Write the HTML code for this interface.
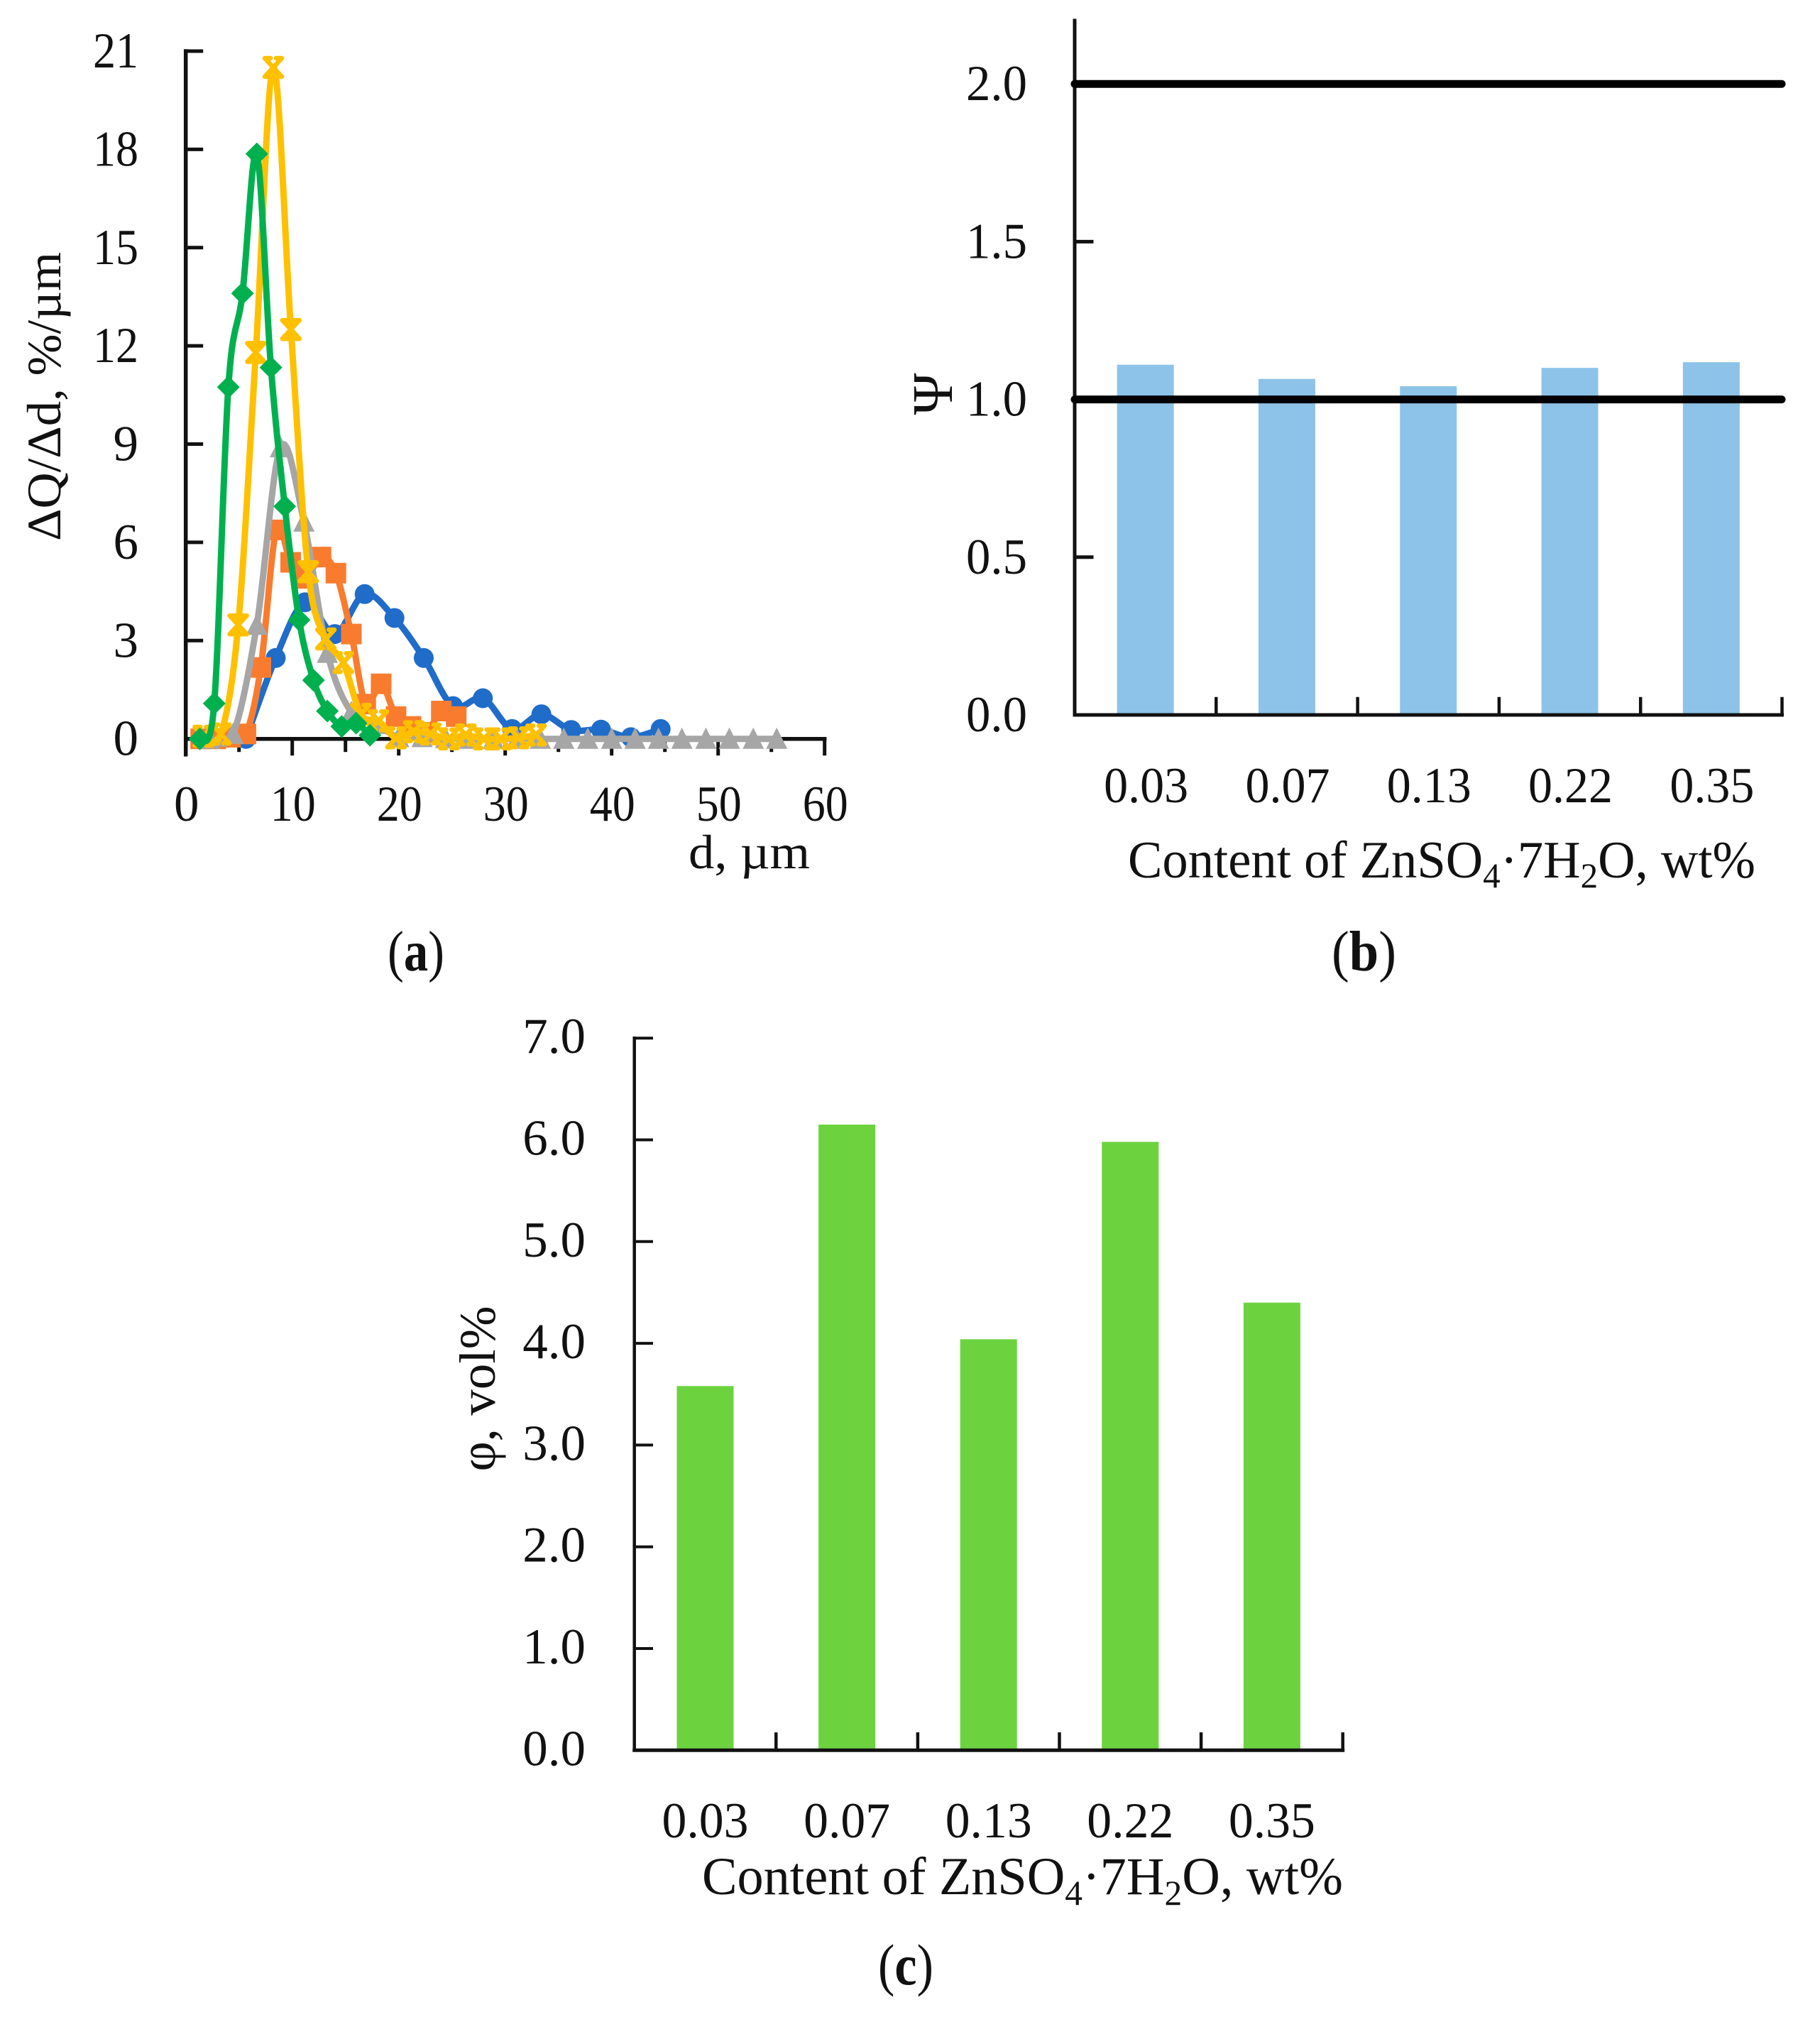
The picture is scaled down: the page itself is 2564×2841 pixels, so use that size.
<!DOCTYPE html>
<html lang="en">
<head>
<meta charset="utf-8">
<title>Particle size distribution and ZnSO4 content charts</title>
<style>
html,body{margin:0;padding:0;background:#fff;}
svg{display:block;}
text{font-family:"Liberation Serif","DejaVu Serif",serif;fill:#111;}
</style>
</head>
<body>
<svg id="figure" xmlns="http://www.w3.org/2000/svg" width="2564" height="2841" viewBox="0 0 2564 2841">
  <rect x="0" y="0" width="2564" height="2841" fill="#fff"/>
  <g id="panelA"></g>
  <g id="panelB"></g>
  <g id="panelC"></g>

  <text transform="translate(85,558.5) rotate(-90)" text-anchor="middle" font-size="68" textLength="407" lengthAdjust="spacingAndGlyphs">ΔQ/Δd, %/µm</text>
  <text x="970" y="1223" font-size="68" textLength="171" lengthAdjust="spacingAndGlyphs">d, µm</text>
  <text x="546" y="1367" font-size="80" textLength="80" lengthAdjust="spacingAndGlyphs">(<tspan font-weight="bold">a</tspan>)</text>

  <text transform="translate(1341,555) rotate(-90)" text-anchor="middle" font-size="80">Ψ</text>
  <text x="1589" y="1236" font-size="74" textLength="884" lengthAdjust="spacingAndGlyphs">Content of ZnSO<tspan font-size="50" dy="14">4</tspan><tspan dy="-14">·7H</tspan><tspan font-size="50" dy="14">2</tspan><tspan dy="-14">O, wt%</tspan></text>
  <text x="1876" y="1367" font-size="80" textLength="91" lengthAdjust="spacingAndGlyphs">(<tspan font-weight="bold">b</tspan>)</text>

  <text transform="translate(697,1956) rotate(-90)" text-anchor="middle" font-size="72" textLength="233" lengthAdjust="spacingAndGlyphs">φ, vol%</text>
  <text x="989" y="2668" font-size="75" textLength="903" lengthAdjust="spacingAndGlyphs">Content of ZnSO<tspan font-size="50" dy="15">4</tspan><tspan dy="-15">·7H</tspan><tspan font-size="50" dy="15">2</tspan><tspan dy="-15">O, wt%</tspan></text>
  <text x="1237" y="2795" font-size="82" textLength="78" lengthAdjust="spacingAndGlyphs">(<tspan font-weight="bold">c</tspan>)</text>
</svg>
<script>
// ---------- Panel A data ----------
const aYTicks = [0, 3, 6, 9, 12, 15, 18, 21];
const aXTicks = [0, 10, 20, 30, 40, 50, 60];
const aXMinorTicks = [5, 15, 25, 35, 45, 55];

const blueD = [5.65, 8.45, 11.2, 14, 16.8, 19.6, 22.35, 25.1, 27.9, 30.65, 33.4, 36.2, 39, 41.8, 44.6];
const blueQ = [0, 2.47, 4.17, 3.2, 4.42, 3.69, 2.47, 1.0, 1.24, 0.3, 0.75, 0.27, 0.28, 0.05, 0.3];

const orangeD = [1.4, 2.8, 4.2, 5.65, 7.05, 8.5, 9.85, 11.25, 12.7, 14.1, 15.55, 16.9, 18.35, 19.75, 21.15, 22.6, 24, 25.4];
const orangeQ = [0, 0, 0.05, 0.15, 2.18, 6.38, 5.39, 4.9, 5.55, 5.06, 3.2, 1.06, 1.68, 0.68, 0.38, 0.2, 0.85, 0.68];

const grayD = [2.22, 4.44, 6.67, 8.89, 11.1, 13.3, 15.55, 17.8, 20, 22.2, 24.4, 26.65, 28.9, 31.1, 33.3, 35.5, 37.75, 40, 42.2, 44.4, 46.6, 48.85, 51.05, 53.3, 55.5];
const grayQ = [0, 0.15, 3.48, 8.9, 6.63, 2.62, 0.81, 0.45, 0.05, 0.05, 0.02, 0, 0, 0, 0, 0, 0, 0, 0, 0, 0, 0, 0, 0, 0];

const yellowD = [1.65, 3.3, 4.93, 6.58, 8.22, 9.87, 11.5, 13.16, 14.8, 16.45, 18.1, 19.74, 21.4, 23, 24.7, 26.3, 28, 29.6, 31.25, 32.9];
const yellowQ = [0.08, 0.15, 3.48, 11.8, 20.5, 12.5, 5.1, 3.05, 2.33, 0.75, 0.55, 0.03, 0.22, 0.15, 0, 0.12, 0, 0, 0.03, 0.12];

const greenD = [1.33, 2.67, 4, 5.33, 6.67, 8, 9.3, 10.65, 12, 13.3, 14.65, 16, 17.3];
const greenQ = [0, 1.08, 10.74, 13.6, 17.86, 11.34, 7.1, 3.63, 1.79, 0.85, 0.38, 0.48, 0.11];

// ---------- Panel B data ----------
const bCategories = ["0.03", "0.07", "0.13", "0.22", "0.35"];
const bValues = [1.11, 1.065, 1.042, 1.10, 1.118];
const bYTicks = [0, 0.5, 1.0, 1.5, 2.0];
const bRefLines = [1.0, 2.0];

// ---------- Panel C data ----------
const cCategories = ["0.03", "0.07", "0.13", "0.22", "0.35"];
const cValues = [3.58, 6.15, 4.04, 5.98, 4.40];
const cYTicks = [0, 1, 2, 3, 4, 5, 6, 7];

// ---------- Axis functions ----------
const xA = d => 261.7 + d * 15;
const yA = v => 1040.7 - v * 46.13;
const yB = v => 1007 - v * 444.4;
const catB = i => 1514 + (i + 0.5) * 199.3;
const yC = v => 2465.3 - v * 143.3;
const catC = i => 893.7 + (i + 0.5) * 199.6;

const NS = "http://www.w3.org/2000/svg";
function mk(parent, tag, attrs) {
  const el = document.createElementNS(NS, tag);
  for (const k in attrs) el.setAttribute(k, attrs[k]);
  parent.appendChild(el);
  return el;
}
function seg(parent, x1, y1, x2, y2, w, color) {
  return mk(parent, "line", {x1, y1, x2, y2, stroke: color || "#111", "stroke-width": w, "stroke-linecap": "square"});
}
function label(parent, str, x, y, anchor, len) {
  const t = mk(parent, "text", {x, y, "font-size": 71, "text-anchor": anchor});
  if (len) {
    t.setAttribute("textLength", len);
    t.setAttribute("lengthAdjust", "spacingAndGlyphs");
  }
  t.textContent = str;
  return t;
}
function smoothPath(pts) {
  let d = "M" + pts[0][0].toFixed(1) + " " + pts[0][1].toFixed(1);
  for (let i = 0; i < pts.length - 1; i++) {
    const p0 = pts[Math.max(i - 1, 0)], p1 = pts[i], p2 = pts[i + 1], p3 = pts[Math.min(i + 2, pts.length - 1)];
    const c1x = p1[0] + (p2[0] - p0[0]) / 6, c1y = p1[1] + (p2[1] - p0[1]) / 6;
    const c2x = p2[0] - (p3[0] - p1[0]) / 6, c2y = p2[1] - (p3[1] - p1[1]) / 6;
    d += "C" + c1x.toFixed(1) + " " + c1y.toFixed(1) + " " + c2x.toFixed(1) + " " + c2y.toFixed(1) + " " + p2[0].toFixed(1) + " " + p2[1].toFixed(1);
  }
  return d;
}
function marker(parent, kind, x, y, color) {
  const tf = "translate(" + x.toFixed(1) + "," + y.toFixed(1) + ")";
  if (kind === "circle") return mk(parent, "circle", {cx: x, cy: y, r: 14, fill: color});
  if (kind === "square") return mk(parent, "rect", {x: x - 14.5, y: y - 14.5, width: 29, height: 29, fill: color});
  if (kind === "triangle") return mk(parent, "path", {d: "M0 -16L15 14H-15Z", transform: tf, fill: color});
  if (kind === "diamond") return mk(parent, "path", {d: "M0 -16L16 0L0 16L-16 0Z", transform: tf, fill: color});
  return mk(parent, "path", {d: "M-12 -13L12 13M12 -13L-12 13M-12 -13H-4M4 -13H12M-12 13H-4M4 13H12", transform: tf, fill: "none", stroke: color, "stroke-width": 6.5, "stroke-linecap": "round"});
}

// ---------- Panel A ----------
const pA = document.getElementById("panelA");
const yAxisA = seg(pA, xA(0), yA(21), xA(0), yA(0) + 22, 5.5);


const xAxisA = seg(pA, xA(0), yA(0), xA(60), yA(0), 5.5);


aYTicks.forEach(v => {
  const tk = seg(pA, xA(0), yA(v), xA(0) + 22, yA(v), 5);
  
  
  const lb = label(pA, String(v), 195, yA(v) + 23, "end", v >= 10 ? 64 : 0);
  
  
});
aXTicks.forEach(v => {
  const tk = seg(pA, xA(v), yA(0), xA(v), yA(0) + 21, 5);
  
  
  const lb = label(pA, String(v), xA(v) + 1, 1156, "middle", v >= 10 ? 64 : 0);
  
  
});
aXMinorTicks.forEach(v => {
  const tk = seg(pA, xA(v), yA(0), xA(v), yA(0) + 16, 5);
  
  
});
function drawSeries(name, ds, qs, color, kind) {
  const g = mk(pA, "g", {});
  
  
  const pts = ds.map((d, i) => [xA(d), yA(qs[i])]);
  const line = mk(g, "path", {d: smoothPath(pts), fill: "none", stroke: color, "stroke-width": 9, "stroke-linejoin": "round", "stroke-linecap": "round"});
  
  
  pts.forEach(p => {
    const m = marker(g, kind, p[0], p[1], color);
    
    
  });
}
drawSeries("blue", blueD, blueQ, "#1F6CC9", "circle");
drawSeries("orange", orangeD, orangeQ, "#F97C2E", "square");
drawSeries("gray", grayD, grayQ, "#A6A6A6", "triangle");
drawSeries("yellow", yellowD, yellowQ, "#FFC000", "star");
drawSeries("green", greenD, greenQ, "#00B04F", "diamond");

// ---------- Panel B ----------
const pB = document.getElementById("panelB");
bValues.forEach((v, i) => {
  const bar = mk(pB, "rect", {x: catB(i) - 40, y: yB(v), width: 80, height: yB(0) - yB(v), fill: "#8DC3E8"});
  
  
  const lb = label(pB, bCategories[i], catB(i) + 1, 1130, "middle", 119);
  
  
});
const yAxisB = seg(pB, 1514, 29, 1514, yB(0), 5);


const xAxisB = seg(pB, 1514, yB(0), 2510.5, yB(0), 5);


bYTicks.forEach(v => {
  const tk = seg(pB, 1514, yB(v), 1538, yB(v), 5);
  
  
  const lb = label(pB, v.toFixed(1), 1447, yB(v) + 23, "end", 86);
  
  
});
bCategories.forEach((c, i) => {
  const xt = catB(i) + 99.65;
  const tk = seg(pB, xt, yB(0), xt, yB(0) - 23, 4.5);
  
  
});
bRefLines.forEach(v => {
  const ln = mk(pB, "line", {x1: 1514, y1: yB(v), x2: 2510, y2: yB(v), stroke: "#000", "stroke-width": 11, "stroke-linecap": "round"});
  
  
});

// ---------- Panel C ----------
const pC = document.getElementById("panelC");
cValues.forEach((v, i) => {
  const bar = mk(pC, "rect", {x: catC(i) - 40, y: yC(v), width: 80, height: yC(0) - yC(v), fill: "#6CD33F"});
  
  
  const lb = label(pC, cCategories[i], catC(i), 2588, "middle", 122);
  
  
});
const yAxisC = seg(pC, 893.7, yC(7), 893.7, yC(0), 4.5);


const xAxisC = seg(pC, 893.7, yC(0), 1891.7, yC(0), 5);


cYTicks.forEach(v => {
  const tk = seg(pC, 893.7, yC(v), 918, yC(v), 4);
  
  
  const lb = label(pC, v.toFixed(1), 825, yC(v) + 21, "end");
  
  
});
cCategories.forEach((c, i) => {
  const xt = catC(i) + 99.8;
  const tk = seg(pC, xt, yC(0), xt, yC(0) - 23, 4.5);
  
  
});
</script>
</body>
</html>
